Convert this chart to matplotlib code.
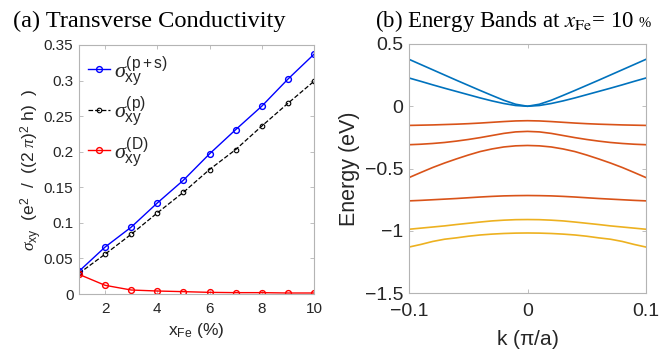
import numpy as np
import matplotlib
matplotlib.use("Agg")
import matplotlib.pyplot as plt
from matplotlib.ticker import FixedLocator, FuncFormatter

plt.rcParams['font.family'] = ['Liberation Sans', 'DejaVu Sans']
plt.rcParams['mathtext.fontset'] = 'custom'
plt.rcParams['mathtext.rm'] = 'Liberation Sans'
plt.rcParams['mathtext.it'] = 'Liberation Serif:italic'
plt.rcParams['mathtext.bf'] = 'Liberation Sans:bold'

# ---------------- data: panel (a) ----------------
x_fe = [1, 2, 3, 4, 5, 6, 7, 8, 9, 10]
sigma_ps = [0.032, 0.066, 0.094, 0.128, 0.160, 0.197, 0.231, 0.264, 0.302, 0.337]
sigma_p = [0.029, 0.056, 0.084, 0.114, 0.143, 0.175, 0.203, 0.236, 0.268, 0.299]
sigma_d = [0.0276, 0.0122, 0.0056, 0.0042, 0.0033, 0.0023, 0.0019, 0.0019, 0.0014, 0.0014]
labels_a = [r'$\sigma^{\mathrm{(p+s)}}_{\mathrm{xy}}$',
            r'$\sigma^{\mathrm{(p)}}_{\mathrm{xy}}$',
            r'$\sigma^{\mathrm{(D)}}_{\mathrm{xy}}$']
yticks_a = [0, 0.05, 0.1, 0.15, 0.2, 0.25, 0.3, 0.35]
xticks_a = [2, 4, 6, 8, 10]

# ---------------- data: panel (b) (k >= 0 half, bands symmetric in k) ----------------
k_half = [0.0, 0.01, 0.02, 0.03, 0.04, 0.05, 0.06, 0.07, 0.08, 0.09, 0.10]
band_b1 = [0.0, 0.016, 0.048, 0.087, 0.127, 0.168, 0.209, 0.251, 0.293, 0.335, 0.377]
band_b2 = [0.0, 0.006, 0.022, 0.043, 0.067, 0.093, 0.119, 0.145, 0.172, 0.200, 0.227]
band_o1 = [-0.116, -0.118, -0.123, -0.129, -0.135, -0.140, -0.144, -0.147, -0.150, -0.152, -0.154]
band_o2 = [-0.202, -0.206, -0.218, -0.235, -0.252, -0.267, -0.280, -0.291, -0.299, -0.305, -0.309]
band_o3 = [-0.315, -0.318, -0.327, -0.343, -0.364, -0.392, -0.423, -0.456, -0.492, -0.532, -0.573]
band_o4 = [-0.717, -0.718, -0.720, -0.724, -0.729, -0.735, -0.741, -0.746, -0.751, -0.756, -0.760]
band_y1 = [-0.910, -0.911, -0.915, -0.921, -0.930, -0.940, -0.950, -0.961, -0.970, -0.979, -0.988]
band_y2 = [-1.018, -1.019, -1.022, -1.027, -1.034, -1.044, -1.057, -1.068, -1.086, -1.110, -1.131]
bands = [(band_b1, '#0072BD'), (band_b2, '#0072BD'),
         (band_o1, '#D95319'), (band_o2, '#D95319'), (band_o3, '#D95319'), (band_o4, '#D95319'),
         (band_y1, '#EDB120'), (band_y2, '#EDB120')]
yticks_b = [-1.5, -1, -0.5, 0, 0.5]
xticks_b = [-0.1, 0, 0.1]

def full(v):
    return list(v[:0:-1]) + list(v)

k_full = [-k for k in k_half[:0:-1]] + list(k_half)

# ---------------- figure ----------------
fig = plt.figure(figsize=(6.59, 3.52), dpi=100)
W, H = 659, 352

def axes_px(x0, x1, y0, y1):
    return fig.add_axes([x0 / W, 1 - y1 / H, (x1 - x0) / W, (y1 - y0) / H])

spine_c = '#b4b4b4'
tick_c = '#262626'

def style(ax, fs, xpad):
    for s in ax.spines.values():
        s.set_color(spine_c)
        s.set_linewidth(0.8)
    ax.tick_params(direction='in', length=3, width=0.6, color=spine_c,
                   labelcolor=tick_c, labelsize=fs, top=True, right=True, pad=4)
    ax.tick_params(axis='x', pad=xpad)

fmt = FuncFormatter(lambda v, p: ('%g' % v).replace('-', '\u2212'))

# panel (a)
ax1 = axes_px(79, 314, 45, 294)
ax1.plot(x_fe, sigma_ps, '-o', color='#0000FF', lw=1.0, ms=4.2, mfc='none', mew=1.0, label=labels_a[0])
ax1.plot(x_fe, sigma_p, '--o', color='#000000', lw=0.9, ms=3.3, mfc='none', mew=0.8, label=labels_a[1])
ax1.plot(x_fe, sigma_d, '-o', color='#FF0000', lw=1.0, ms=4.2, mfc='none', mew=1.0, label=labels_a[2])
ax1.set_xlim(1, 10)
ax1.set_ylim(0, 0.35)
ax1.xaxis.set_major_locator(FixedLocator(xticks_a))
ax1.yaxis.set_major_locator(FixedLocator(yticks_a))
ax1.xaxis.set_major_formatter(fmt)
ax1.yaxis.set_major_formatter(fmt)
style(ax1, 11, 5.5)
ax1.set_xlabel(r'x$_{\mathrm{Fe}}$ (%)', fontsize=12.5, color=tick_c)
ax1.set_ylabel(r'$\sigma_{\mathrm{xy}}$  (e$^{\mathrm{2}}$  /  ((2 $\pi$)$^{\mathrm{2}}$ h)  )',
               fontsize=12.5, color=tick_c)
ax1.xaxis.set_label_coords(0.5, -0.11)
ax1.yaxis.set_label_coords(-0.15, 0.5)
leg = ax1.legend(loc='upper left', bbox_to_anchor=(-0.01, 1.01), frameon=False, fontsize=16,
                 handlelength=1.0, handletextpad=0.2, labelspacing=0.3, borderaxespad=0.1)
for t in leg.get_texts():
    t.set_color(tick_c)

# panel (b)
ax2 = axes_px(409, 646, 44, 293)
for vals, c in bands:
    ax2.plot(k_full, full(vals), '-', color=c, lw=1.2)
ax2.set_xlim(-0.1, 0.1)
ax2.set_ylim(-1.5, 0.5)
ax2.xaxis.set_major_locator(FixedLocator(xticks_b))
ax2.yaxis.set_major_locator(FixedLocator(yticks_b))
ax2.xaxis.set_major_formatter(fmt)
ax2.yaxis.set_major_formatter(fmt)
style(ax2, 14, 7.5)
ax2.set_xlabel(r'k ($\mathrm{\pi}$/a)', fontsize=15, color=tick_c)
ax2.set_ylabel('Energy (eV)', fontsize=15.5, color=tick_c)
ax2.xaxis.set_label_coords(0.5, -0.14)
ax2.yaxis.set_label_coords(-0.205, 0.5)

# titles
fig.text(13 / W, 1 - 27 / H, '(a) Transverse Conductivity', fontsize=17.6,
         family='Liberation Serif', ha='left', va='baseline', color='black')
tb = fig.text(375 / W, 1 - 27 / H, r'(b) Energy Bands at $x_{\mathrm{Fe}}$= 10', fontsize=16.5,
              family='Liberation Serif', math_fontfamily='stix', ha='left', va='baseline',
              color='black')
renderer = fig.canvas.get_renderer()
bb = tb.get_window_extent(renderer)
fig.text(bb.x1 / W + 4 / W, 1 - 27 / H, '%', fontsize=10.5, family='Liberation Serif',
         ha='left', va='baseline', color='black')

fig.savefig('out.png', dpi=100)
